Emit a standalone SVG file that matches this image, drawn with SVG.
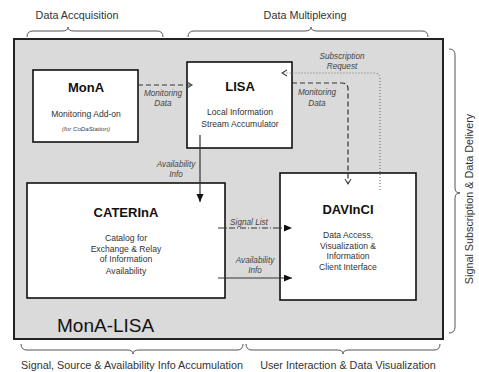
<svg xmlns="http://www.w3.org/2000/svg" width="479" height="372" viewBox="0 0 479 372">
  <style>
    .frame { fill: #dadada; stroke: #222; stroke-width: 2; }
    .node { fill: #fff; stroke: #111; stroke-width: 1.6; }
    .brace { fill: none; stroke: #555; stroke-width: 1; }
    .title { font-family: "Liberation Sans", Arial, sans-serif; font-weight: bold; font-size: 13px; fill: #111; text-anchor: middle; }
    .body { font-family: "Liberation Sans", Arial, sans-serif; font-size: 8.6px; fill: #333; text-anchor: middle; }
    .small { font-family: "Liberation Sans", Arial, sans-serif; font-size: 6.2px; font-style: italic; fill: #444; text-anchor: middle; }
    .lbl { font-family: "Liberation Sans", Arial, sans-serif; font-size: 8.2px; font-style: italic; fill: #444; text-anchor: middle; }
    .side { font-family: "Liberation Sans", Arial, sans-serif; font-size: 10.8px; fill: #333; text-anchor: middle; }
    .edge { fill: none; stroke: #333; stroke-width: 1.2; }
    .dashed { stroke-dasharray: 5 3; }
    .dotted { stroke: #777; stroke-dasharray: 1 2; }
    .dashdot { stroke-dasharray: 6 2 1 2; }
  </style>
  <defs>
    <marker id="filled" markerUnits="userSpaceOnUse" markerWidth="9" markerHeight="8" refX="8" refY="3.5" orient="auto">
      <path d="M0,0 L8,3.5 L0,7 z" fill="#111"/>
    </marker>
    <marker id="open" markerUnits="userSpaceOnUse" markerWidth="9" markerHeight="9" refX="6" refY="4" orient="auto">
      <path d="M1,1 L6,4 L1,7" fill="none" stroke="#444" stroke-width="1.1"/>
    </marker>
  </defs>

  <!-- section labels and braces -->
  <g id="sections">
    <text class="side" x="77" y="19">Data Accquisition</text>
    <path class="brace" d="M27,37 Q27,31 33,31 L62,31 Q68,31 68,27 Q68,31 74,31 L157,31 Q163,31 163,37"/>
    <text class="side" x="305" y="19">Data Multiplexing</text>
    <path class="brace" d="M188,37 Q188,31 194,31 L305,31 Q311,31 311,27 Q311,31 317,31 L422,31 Q428,31 428,37"/>
    <path class="brace" d="M449,49 Q455,49 455,55 L455,188 Q455,193 460,193 Q455,193 455,198 L455,327 Q455,333 449,333"/>
    <text class="side" transform="translate(473,199) rotate(-90)">Signal Subscription &amp; Data Delivery</text>
    <path class="brace" d="M21,344 Q21,350 27,350 L127,350 Q133,350 133,354 Q133,350 139,350 L237,350 Q243,350 243,344"/>
    <text class="side" x="132" y="369">Signal, Source &amp; Availability Info Accumulation</text>
    <path class="brace" d="M246,344 Q246,350 252,350 L337,350 Q343,350 343,354 Q343,350 349,350 L434,350 Q440,350 440,344"/>
    <text class="side" x="348" y="369">User Interaction &amp; Data Visualization</text>
  </g>

  <!-- system frame -->
  <g id="monalisa">
    <rect class="frame" x="14" y="39" width="429" height="300"/>
    <text x="57" y="332" font-family="Liberation Sans, Arial, sans-serif" font-size="19" fill="#111">MonA-LISA</text>
  </g>

  <g id="mona">
    <rect class="node" x="33" y="70" width="105" height="72"/>
    <text class="title" x="86" y="92">MonA</text>
    <text class="body" x="86" y="117">Monitoring Add-on</text>
    <text class="small" x="86" y="131">(for CoDaStation)</text>
  </g>

  <g id="lisa">
    <rect class="node" x="187" y="62" width="105" height="86"/>
    <text class="title" x="240" y="91">LISA</text>
    <text class="body" x="240" y="115">Local Information</text>
    <text class="body" x="240" y="127">Stream Accumulator</text>
  </g>

  <g id="caterina">
    <rect class="node" x="27" y="183" width="198" height="115"/>
    <text class="title" x="126" y="217">CATERInA</text>
    <text class="body" x="126" y="241">Catalog for</text>
    <text class="body" x="126" y="252">Exchange &amp; Relay</text>
    <text class="body" x="126" y="262">of Information</text>
    <text class="body" x="126" y="274">Availability</text>
  </g>

  <g id="davinci">
    <rect class="node" x="280" y="173" width="136" height="127"/>
    <text class="title" x="348" y="214">DAVInCI</text>
    <text class="body" x="348" y="238">Data Access,</text>
    <text class="body" x="348" y="249">Visualization &amp;</text>
    <text class="body" x="348" y="259">Information</text>
    <text class="body" x="348" y="270">Client Interface</text>
  </g>

  <!-- connectors -->
  <g id="connectors">
    <path class="edge dashed" d="M138,85 L192,85" marker-end="url(#open)"/>
    <text class="lbl" x="163" y="96">Monitoring</text>
    <text class="lbl" x="163" y="106">Data</text>

    <path class="edge dashed" d="M292,83 L342,83 Q348,83 348,89 L348,184" marker-end="url(#open)"/>
    <text class="lbl" x="317" y="95">Monitoring</text>
    <text class="lbl" x="317" y="106">Data</text>

    <path class="edge dotted" d="M380,190 L380,79 Q380,73 374,73 L282,73" marker-end="url(#open)"/>
    <text class="lbl" x="342" y="59">Subscription</text>
    <text class="lbl" x="342" y="69">Request</text>

    <path class="edge" d="M200,135 L200,202" marker-end="url(#filled)"/>
    <text class="lbl" x="176" y="167">Availability</text>
    <text class="lbl" x="176" y="177">Info</text>

    <path class="edge dashdot" d="M218,228 L292,228" marker-end="url(#filled)"/>
    <text class="lbl" x="249" y="225">Signal List</text>

    <path class="edge" d="M218,278 L292,278" marker-end="url(#filled)"/>
    <text class="lbl" x="255" y="263">Availability</text>
    <text class="lbl" x="255" y="273">Info</text>
  </g>
</svg>
